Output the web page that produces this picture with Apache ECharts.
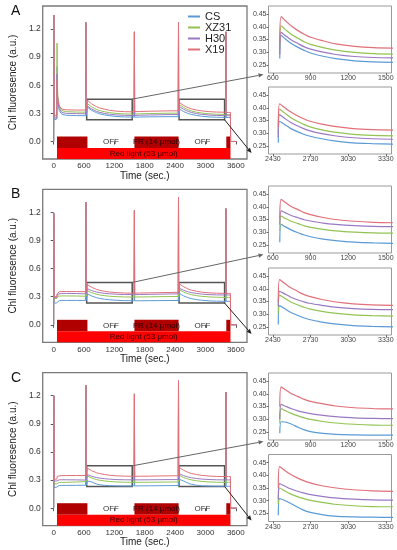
<!DOCTYPE html>
<html><head><meta charset="utf-8">
<script src="https://cdn.jsdelivr.net/npm/echarts@6/dist/echarts.min.js"></script>
<style>html,body{margin:0;padding:0;background:#fff}#c{width:397px;height:550px}</style>
</head><body><div id="c"></div>
<script>
// ---------------- DATA ----------------
const seriesNames = ['CS', 'XZ31', 'H30', 'X19'];
const panelLabels = ['A', 'B', 'C'];

// time points (s): start | 1st OFF period | FR period | 2nd OFF period | end
const timeSec = [
  0, 3, 8, 40, 62, 66, 72, 85, 110, 160, 250, 450, 630, 636, 642,
  655, 666, 700, 750, 800, 850, 900, 1000, 1100, 1250, 1400, 1590,
  1596, 1600, 1700, 1900, 2100, 2300, 2462, 2467, 2471,
  2473, 2484, 2520, 2570, 2620, 2670, 2720, 2820, 2920, 3070, 3220, 3398,
  3404, 3408, 3450, 3494, 3497, 3620
];
const zoom1Index = [15, 27];   // slice of timeSec shown in upper inset
const zoom2Index = [36, 48];   // slice of timeSec shown in lower inset

const A_CS = [0, 1.35, 0.23, 0.23, 0.24, 0.8, 0.52, 0.42, 0.33, 0.29, 0.28, 0.276, 0.275, 1.27, 0.275,
  0.275, 0.366, 0.352, 0.333, 0.319, 0.307, 0.297, 0.284, 0.275, 0.266, 0.262, 0.26,
  1.17, 0.26, 0.261, 0.263, 0.264, 0.265, 0.265, 1.27, 0.265,
  0.262, 0.347, 0.335, 0.319, 0.307, 0.297, 0.289, 0.278, 0.27, 0.262, 0.259, 0.257,
  1.17, 0.256, 0.256, 0.256, 0, 0];
const A_XZ31 = [0, 1.35, 0.26, 0.26, 0.26, 1.05, 0.62, 0.46, 0.37, 0.33, 0.318, 0.314, 0.313, 1.27, 0.313,
  0.313, 0.404, 0.389, 0.369, 0.355, 0.341, 0.331, 0.318, 0.308, 0.299, 0.294, 0.292,
  1.17, 0.293, 0.295, 0.298, 0.3, 0.302, 0.302, 1.27, 0.302,
  0.302, 0.395, 0.381, 0.362, 0.348, 0.336, 0.326, 0.313, 0.304, 0.295, 0.291, 0.289,
  1.17, 0.288, 0.288, 0.288, 0, 0];
const A_H30 = [0, 1.35, 0.25, 0.25, 0.25, 0.72, 0.5, 0.42, 0.35, 0.31, 0.3, 0.297, 0.295, 1.27, 0.295,
  0.292, 0.378, 0.365, 0.347, 0.334, 0.321, 0.312, 0.3, 0.291, 0.283, 0.279, 0.277,
  1.17, 0.278, 0.28, 0.283, 0.285, 0.287, 0.287, 1.27, 0.287,
  0.285, 0.373, 0.36, 0.343, 0.33, 0.319, 0.31, 0.298, 0.29, 0.282, 0.278, 0.276,
  1.17, 0.275, 0.275, 0.275, 0, 0];
const A_X19 = [0, 1.35, 0.28, 0.28, 0.28, 0.65, 0.5, 0.44, 0.38, 0.345, 0.338, 0.335, 0.336, 1.27, 0.336,
  0.336, 0.44, 0.424, 0.402, 0.385, 0.371, 0.359, 0.345, 0.333, 0.323, 0.318, 0.316,
  1.17, 0.318, 0.32, 0.323, 0.325, 0.327, 0.327, 1.27, 0.327,
  0.325, 0.416, 0.402, 0.384, 0.37, 0.358, 0.348, 0.336, 0.327, 0.318, 0.314, 0.312,
  1.17, 0.31, 0.31, 0.31, 0, 0];

const B_CS = [0, 1.19, 0.23, 0.23, 0.235, 0.245, 0.252, 0.256, 0.258, 0.26, 0.26, 0.26, 0.26, 1.31, 0.26,
  0.26, 0.331, 0.321, 0.308, 0.298, 0.289, 0.282, 0.273, 0.267, 0.261, 0.258, 0.256,
  1.22, 0.256, 0.256, 0.257, 0.258, 0.259, 0.259, 1.36, 0.259,
  0.259, 0.334, 0.323, 0.308, 0.297, 0.287, 0.279, 0.269, 0.262, 0.255, 0.252, 0.25,
  1.24, 0.25, 0.25, 0.25, 0, 0];
const B_XZ31 = [0, 1.19, 0.28, 0.28, 0.28, 0.29, 0.3, 0.305, 0.307, 0.308, 0.308, 0.307, 0.305, 1.31, 0.305,
  0.305, 0.363, 0.354, 0.342, 0.334, 0.325, 0.319, 0.311, 0.305, 0.3, 0.297, 0.296,
  1.22, 0.296, 0.297, 0.298, 0.3, 0.301, 0.302, 1.36, 0.302,
  0.302, 0.375, 0.364, 0.349, 0.338, 0.329, 0.321, 0.311, 0.304, 0.297, 0.294, 0.292,
  1.24, 0.292, 0.292, 0.292, 0, 0];
const B_H30 = [0, 1.19, 0.29, 0.29, 0.29, 0.31, 0.325, 0.33, 0.333, 0.335, 0.335, 0.333, 0.33, 1.31, 0.33,
  0.33, 0.384, 0.376, 0.365, 0.357, 0.349, 0.344, 0.336, 0.331, 0.326, 0.323, 0.322,
  1.22, 0.322, 0.323, 0.325, 0.327, 0.329, 0.33, 1.36, 0.33,
  0.33, 0.39, 0.381, 0.368, 0.358, 0.35, 0.343, 0.335, 0.328, 0.322, 0.319, 0.318,
  1.24, 0.318, 0.318, 0.318, 0, 0];
const B_X19 = [0, 1.19, 0.3, 0.3, 0.3, 0.33, 0.345, 0.35, 0.353, 0.355, 0.355, 0.354, 0.353, 1.31, 0.353,
  0.353, 0.429, 0.417, 0.4, 0.389, 0.377, 0.369, 0.358, 0.35, 0.343, 0.339, 0.337,
  1.22, 0.338, 0.339, 0.341, 0.343, 0.345, 0.347, 1.36, 0.348,
  0.348, 0.436, 0.423, 0.405, 0.392, 0.379, 0.37, 0.358, 0.349, 0.341, 0.337, 0.335,
  1.24, 0.335, 0.335, 0.335, 0, 0];

const C_CS = [0, 1.2, 0.22, 0.22, 0.225, 0.235, 0.24, 0.242, 0.243, 0.243, 0.243, 0.244, 0.245, 1.31, 0.245,
  0.245, 0.29, 0.289, 0.28, 0.268, 0.258, 0.251, 0.244, 0.24, 0.238, 0.237, 0.237,
  1.22, 0.237, 0.238, 0.239, 0.24, 0.241, 0.242, 1.36, 0.243,
  0.243, 0.308, 0.302, 0.29, 0.276, 0.264, 0.255, 0.245, 0.239, 0.236, 0.235, 0.234,
  1.24, 0.234, 0.234, 0.234, 0, 0];
const C_XZ31 = [0, 1.2, 0.26, 0.26, 0.26, 0.265, 0.27, 0.273, 0.275, 0.275, 0.276, 0.28, 0.283, 1.31, 0.283,
  0.283, 0.342, 0.333, 0.322, 0.313, 0.305, 0.299, 0.291, 0.285, 0.28, 0.277, 0.276,
  1.22, 0.276, 0.276, 0.277, 0.278, 0.279, 0.28, 1.36, 0.285,
  0.287, 0.35, 0.34, 0.327, 0.317, 0.309, 0.302, 0.293, 0.286, 0.28, 0.277, 0.276,
  1.24, 0.276, 0.276, 0.276, 0, 0];
const C_H30 = [0, 1.2, 0.29, 0.29, 0.29, 0.295, 0.3, 0.302, 0.303, 0.303, 0.303, 0.302, 0.3, 1.31, 0.3,
  0.3, 0.358, 0.351, 0.341, 0.333, 0.327, 0.322, 0.315, 0.31, 0.305, 0.303, 0.302,
  1.22, 0.302, 0.302, 0.303, 0.304, 0.305, 0.305, 1.36, 0.305,
  0.305, 0.367, 0.359, 0.347, 0.338, 0.331, 0.325, 0.317, 0.311, 0.306, 0.303, 0.302,
  1.24, 0.302, 0.302, 0.302, 0, 0];
const C_X19 = [0, 1.2, 0.31, 0.31, 0.31, 0.33, 0.34, 0.345, 0.347, 0.348, 0.348, 0.349, 0.349, 1.31, 0.349,
  0.349, 0.427, 0.416, 0.4, 0.389, 0.378, 0.37, 0.36, 0.352, 0.345, 0.342, 0.34,
  1.22, 0.34, 0.341, 0.342, 0.344, 0.345, 0.346, 1.36, 0.348,
  0.35, 0.434, 0.421, 0.404, 0.391, 0.38, 0.371, 0.359, 0.351, 0.343, 0.339, 0.337,
  1.24, 0.337, 0.337, 0.337, 0, 0];

const panelValues = [
  [A_CS, A_XZ31, A_H30, A_X19],
  [B_CS, B_XZ31, B_H30, B_X19],
  [C_CS, C_XZ31, C_H30, C_X19]
];

// light regime (s)
const topRowStart = [65, 667, 1596, 2469, 3412];
const topRowEnd   = [667, 1596, 2469, 3412, 3494];
const topRowOn    = [true, false, true, false, true];
const topRowText  = ['', 'OFF', 'FR (14 μmol)', 'OFF', ''];
const redLightRange = [65, 3494];
const redLightText = 'Red light (53 μmol)';

// zoomed windows (s, a.u.)
const zoomWindowT = [[652, 1552], [2478, 3378]];
const zoomWindowF = [0.232, 0.452];

// tick labels
const mainXTicks = [0, 600, 1200, 1800, 2400, 3000, 3600];
const mainYTicks = [0, 0.3, 0.6, 0.9, 1.2];
const inset1XTicks = [600, 900, 1200, 1500];
const inset2XTicks = [2430, 2730, 3030, 3330];
const insetYTicks = [0.25, 0.30, 0.35, 0.40, 0.45];

// ---------------- STYLE / LAYOUT ----------------
const colors = ['#5b9bd5', '#92c353', '#9a79c4', '#e0707a'];
const FONT = 'Liberation Sans, Arial, Helvetica, sans-serif';
const mainTop = [6, 189.3, 372.7];
const insetTop = [[6, 87], [186, 268], [373, 454.5]];
const mainRange = {xmin: -217, xmax: 3821, ymin: -0.187, ymax: 1.446};
const insetXRange = [[565, 1545], [2395, 3375]];
const insetYRange = [0.218, 0.482];
const plain = v => String(v);

const grids = [], xAxes = [], yAxes = [], series = [], titles = [];

panelLabels.forEach((lab, p) => {
  titles.push({text: lab, left: 11, top: mainTop[p] - 2, padding: 0,
    textStyle: {fontSize: 14, fontWeight: 'normal', color: '#111', fontFamily: FONT}});
  const gMain = p * 3;
  grids.push({left: 37, top: mainTop[p], width: 210, height: 153, show: true,
    borderColor: '#7a7a7a', borderWidth: 1.3, backgroundColor: 'transparent'});
  xAxes.push({gridIndex: gMain, type: 'value', min: mainRange.xmin, max: mainRange.xmax,
    axisLine: {show: false}, splitLine: {show: false},
    axisTick: {show: true, customValues: mainXTicks, length: 3, lineStyle: {color: '#555'}},
    axisLabel: {customValues: mainXTicks, fontSize: 8, color: '#333', margin: 3, fontFamily: FONT, formatter: plain},
    name: 'Time (sec.)', nameLocation: 'middle', nameGap: 11,
    nameTextStyle: {fontSize: 10, color: '#222', fontFamily: FONT}});
  yAxes.push({gridIndex: gMain, type: 'value', min: mainRange.ymin, max: mainRange.ymax,
    axisLine: {show: false}, splitLine: {show: false},
    axisTick: {show: true, customValues: mainYTicks, length: 3, lineStyle: {color: '#555'}},
    axisLabel: {customValues: mainYTicks, fontSize: 8.5, color: '#333', margin: 2,
      formatter: v => v.toFixed(1), fontFamily: FONT},
    name: 'Chl fluoresence (a.u.)', nameLocation: 'middle', nameGap: 22,
    nameTextStyle: {fontSize: 10, color: '#222', fontFamily: FONT}});
  for (let k = 0; k < 2; k++) {
    grids.push({left: 268.5, top: insetTop[p][k], width: 123, height: 67, show: true,
      borderColor: '#9a9a9a', borderWidth: 1, backgroundColor: 'transparent'});
    const ticks = k === 0 ? inset1XTicks : inset2XTicks;
    xAxes.push({gridIndex: gMain + 1 + k, type: 'value', min: insetXRange[k][0], max: insetXRange[k][1],
      axisLine: {show: false}, splitLine: {show: false},
      axisTick: {show: true, customValues: ticks, length: 2, lineStyle: {color: '#666'}},
      axisLabel: {customValues: ticks, fontSize: 7, color: '#444', margin: 2, fontFamily: FONT, formatter: plain}});
    yAxes.push({gridIndex: gMain + 1 + k, type: 'value', min: insetYRange[0], max: insetYRange[1],
      axisLine: {show: false}, splitLine: {show: false},
      axisTick: {show: true, customValues: insetYTicks, length: 2, lineStyle: {color: '#666'}},
      axisLabel: {customValues: insetYTicks, fontSize: 7, color: '#444', margin: 2,
        formatter: v => v.toFixed(2), fontFamily: FONT}});
  }

  // light bars
  const barData = [];
  topRowStart.forEach((s, i) => {
    barData.push([
      {xAxis: s, yAxis: -0.07,
       itemStyle: {color: topRowOn[i] ? '#b00000' : 'rgba(255,255,255,0)'},
       label: {show: !!topRowText[i], position: 'inside', formatter: topRowText[i],
         color: topRowOn[i] ? '#2a0000' : '#333', fontSize: 8, fontFamily: FONT}},
      {xAxis: topRowEnd[i], yAxis: 0.053}
    ]);
  });
  barData.push([
    {xAxis: redLightRange[0], yAxis: mainRange.ymin,
     itemStyle: {color: '#ff0000'},
     label: {show: true, position: 'inside', formatter: redLightText, color: '#3a0000', fontSize: 8, fontFamily: FONT}},
    {xAxis: redLightRange[1], yAxis: -0.07}
  ]);
  series.push({type: 'line', data: [], xAxisIndex: gMain, yAxisIndex: gMain, z: 1, silent: true,
    markArea: {silent: true, data: barData}});

  // data lines
  seriesNames.forEach((nm, s) => {
    const vals = panelValues[p][s];
    series.push({type: 'line', name: nm, xAxisIndex: gMain, yAxisIndex: gMain, z: 2 + s * 0.1,
      data: timeSec.map((t, i) => [t, vals[i]]), showSymbol: false,
      lineStyle: {width: 1, color: colors[s]}, itemStyle: {color: colors[s]}});
    [zoom1Index, zoom2Index].forEach((rng, k) => {
      const idx = [];
      for (let i = rng[0]; i < rng[1]; i++) idx.push(i);
      series.push({type: 'line', name: nm, xAxisIndex: gMain + 1 + k, yAxisIndex: gMain + 1 + k, z: 2 + s * 0.1,
        data: idx.map(i => [timeSec[i], vals[i]]), showSymbol: false, smooth: 0.3,
        lineStyle: {width: 1.2, color: colors[s]}, itemStyle: {color: colors[s]}});
    });
  });

  // zoom boxes
  series.push({type: 'line', data: [], xAxisIndex: gMain, yAxisIndex: gMain, z: 6, silent: true,
    markArea: {silent: true, data: zoomWindowT.map(w => [
      {xAxis: w[0], yAxis: zoomWindowF[0],
       itemStyle: {color: 'rgba(0,0,0,0)', borderColor: '#555', borderWidth: 1.5}},
      {xAxis: w[1], yAxis: zoomWindowF[1]}])}});
});

const option = {
  animation: false,
  textStyle: {fontFamily: FONT},
  title: titles,
  legend: {data: seriesNames, orient: 'vertical', left: 188, top: 11, padding: 0,
    itemWidth: 12, itemHeight: 2, itemGap: 0, icon: 'rect',
    textStyle: {fontSize: 11, lineHeight: 9.5, color: '#222', fontFamily: FONT}},
  grid: grids, xAxis: xAxes, yAxis: yAxes, series: series
};

const chart = echarts.init(document.getElementById('c'), null, {renderer: 'canvas'});
chart.setOption(option);

// connector arrows from zoom boxes to insets
function arrowEls(p1, p2, color) {
  const dx = p2[0] - p1[0], dy = p2[1] - p1[1], L = Math.hypot(dx, dy);
  const ux = dx / L, uy = dy / L, hl = 5, hw = 2.2;
  const bx = p2[0] - ux * hl, by = p2[1] - uy * hl;
  return [
    {type: 'line', z: 20, shape: {x1: p1[0], y1: p1[1], x2: bx, y2: by}, style: {stroke: color, lineWidth: 1}},
    {type: 'polygon', z: 20, shape: {points: [[p2[0], p2[1]], [bx - uy * hw, by + ux * hw], [bx + uy * hw, by - ux * hw]]},
      style: {fill: color}}
  ];
}
const gEls = [];
panelLabels.forEach((lab, p) => {
  const g = p * 3;
  const a1 = chart.convertToPixel({gridIndex: g}, [zoomWindowT[0][1], zoomWindowF[1]]);
  const b1 = chart.convertToPixel({gridIndex: g + 1}, [insetXRange[0][0], insetYRange[0]]);
  const a2 = chart.convertToPixel({gridIndex: g}, [zoomWindowT[1][1], zoomWindowF[0]]);
  const b2 = chart.convertToPixel({gridIndex: g + 2}, [insetXRange[1][0], insetYRange[0]]);
  gEls.push(...arrowEls(a1, [b1[0] - 5, b1[1] + 1.5], '#666'));
  gEls.push(...arrowEls(a2, [b2[0] - 17, b2[1] - 1], '#222'));
});
chart.setOption({graphic: gEls});
</script></body></html>
